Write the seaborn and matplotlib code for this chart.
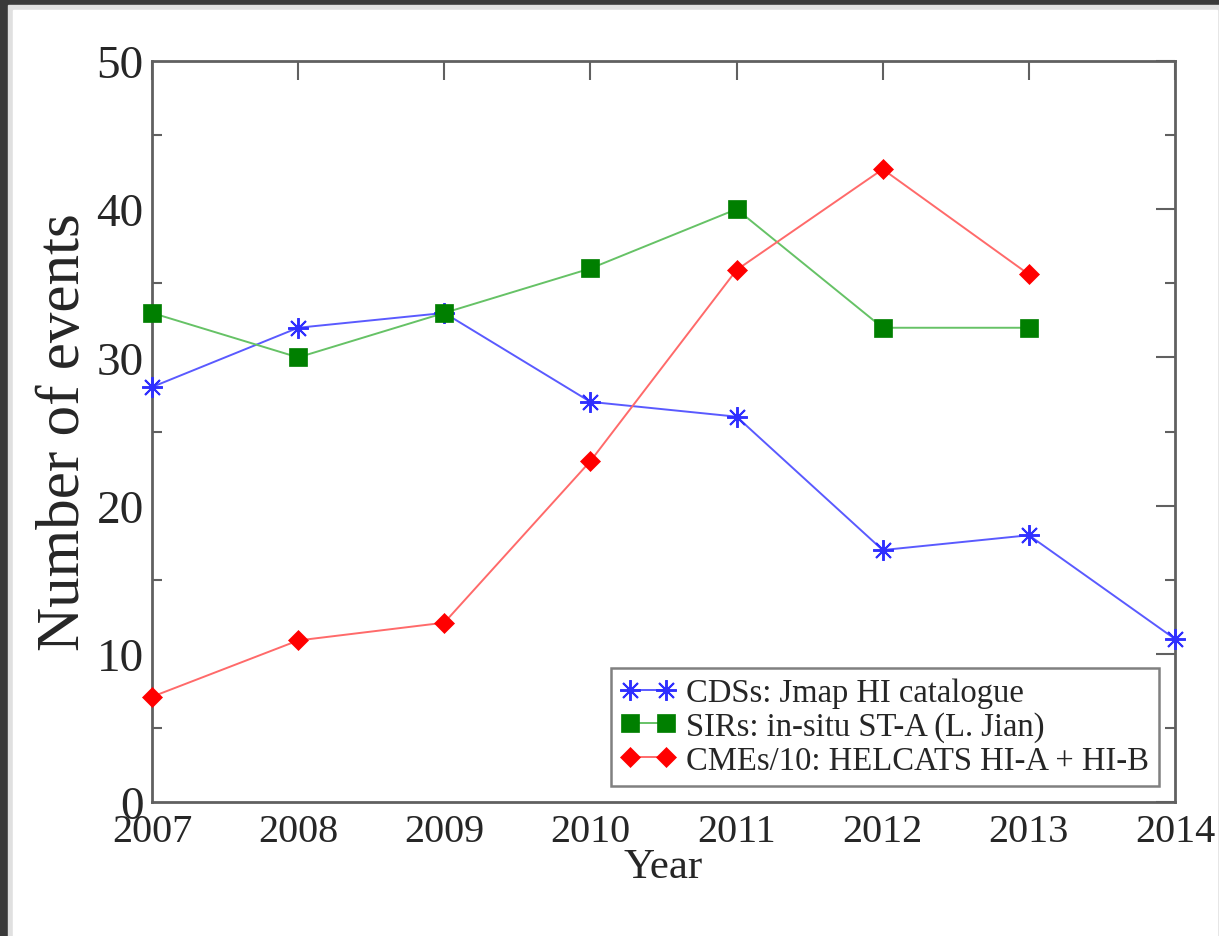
import matplotlib
matplotlib.use('Agg')
import matplotlib.pyplot as plt
from matplotlib.patches import Rectangle
from matplotlib.ticker import MultipleLocator
import pandas as pd
import seaborn as sns

# data
years = [2007, 2008, 2009, 2010, 2011, 2012, 2013, 2014]
cds = [28, 32, 33, 27, 26, 17, 18, 11]
sirs = [33, 30, 33, 36, 40, 32, 32, None]
cmes = [7.1, 10.9, 12.1, 23.0, 35.9, 42.7, 35.6, None]
labels = ['CDSs: Jmap HI catalogue',
          'SIRs: in-situ ST-A (L. Jian)',
          'CMEs/10: HELCATS HI-A + HI-B']

sns.set_theme(style='white')
plt.rcParams['font.family'] = ['Liberation Serif', 'DejaVu Serif']

fig = plt.figure(figsize=(12.19, 9.37), dpi=100)
fig.patch.set_facecolor('#3a3a3a')
# screenshot frame
fig.patches.append(Rectangle((8 / 1219, 0), 1 - 8 / 1219, 1 - 6 / 937,
                             transform=fig.transFigure, color='#e0e0e0', zorder=-2))
fig.patches.append(Rectangle((13 / 1219, 0), (1217 - 13) / 1219, 1 - 11 / 937,
                             transform=fig.transFigure, color='white', zorder=-1))

ax = fig.add_axes([152 / 1219, 1 - 803 / 937, (1175 - 152) / 1219, (803 - 62) / 937])

df = pd.DataFrame({'Year': years, 'cds': cds, 'sirs': sirs, 'cmes': cmes})

# column, line colour, marker, size, marker colour, edge width
styles = [
    ('cds', '#5a5aff', (8, 2, 0), 15, '#3030ff', 1.4),
    ('sirs', '#66c266', 's', 13, '#007f00', 0.5),
    ('cmes', '#ff6a6a', 'D', 10.5, '#ff0000', 0.5),
]
for (col, lc, mk, ms, mc, mew), lab in zip(styles, labels):
    sub = df.dropna(subset=[col])
    sns.lineplot(data=sub, x='Year', y=col, ax=ax, color=lc, linewidth=1.4,
                 marker=mk, markersize=ms, markerfacecolor=mc,
                 markeredgecolor=mc, markeredgewidth=mew,
                 label=lab, clip_on=False, zorder=3)

ax.set_xlim(2007, 2014)
ax.set_ylim(0, 50)
ax.xaxis.set_major_locator(MultipleLocator(1))
ax.yaxis.set_major_locator(MultipleLocator(10))
ax.yaxis.set_minor_locator(MultipleLocator(5))

for sp in ax.spines.values():
    sp.set_color('#606060')
    sp.set_linewidth(2)

ax.tick_params(axis='both', which='major', direction='in', length=14, width=1.5,
               color='#606060', top=True, right=True)
ax.tick_params(axis='both', which='minor', direction='in', length=7, width=1.5,
               color='#606060', top=True, right=True, left=True)
ax.tick_params(axis='y', labelsize=34, pad=6)
ax.tick_params(axis='x', labelsize=29, pad=8)

ax.set_xlabel('Year', fontsize=31, labelpad=-2)
ax.set_ylabel('Number of events', fontsize=44, labelpad=3)

leg = ax.legend(loc='lower right', fontsize=23.5, frameon=True, fancybox=False,
                edgecolor='#606060', numpoints=2, handlelength=1.7,
                handletextpad=0.3, labelspacing=0.1, borderaxespad=0.5,
                borderpad=0.3)
leg.get_frame().set_linewidth(1.8)

fig.savefig('out.png', dpi=100, facecolor=fig.get_facecolor())
